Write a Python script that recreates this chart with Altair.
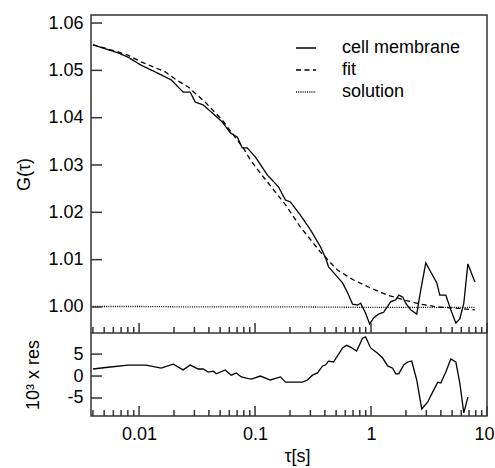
import altair as alt
import pandas as pd

# ---- data ----
membrane_tau = [0.0040, 0.00658, 0.00803, 0.0104, 0.0137, 0.0189, 0.0217, 0.0240, 0.0276, 0.0305,
                0.0357, 0.0419, 0.0521, 0.0612, 0.0703, 0.0776, 0.0857, 0.1006, 0.1276, 0.159,
                0.183, 0.2018, 0.246, 0.3006, 0.3667, 0.405, 0.430, 0.494, 0.568, 0.628,
                0.693, 0.766, 0.813, 0.898, 0.973, 1.053, 1.163, 1.285, 1.477, 1.632,
                1.733, 1.876, 1.991, 2.198, 2.477, 2.684, 2.965, 3.273, 3.69, 3.917,
                4.414, 4.873, 5.385, 5.83, 6.31, 6.84, 7.86]
membrane_g = [1.0554, 1.0537, 1.0528, 1.0511, 1.0497, 1.0480, 1.0465, 1.0454, 1.0454, 1.0433,
              1.0427, 1.0412, 1.0391, 1.0368, 1.0359, 1.0336, 1.0336, 1.0317, 1.0279, 1.0254,
              1.0226, 1.0222, 1.0194, 1.0163, 1.0127, 1.0104, 1.0085, 1.0068, 1.0051, 1.0030,
              1.0006, 1.0004, 1.0008, 0.9987, 0.9964, 0.9977, 0.9985, 0.9989, 1.0011, 1.0015,
              1.0025, 1.0021, 1.0008, 0.9994, 0.9985, 1.0036, 1.0093, 1.0074, 1.0051, 1.0025,
              1.0025, 0.9994, 0.9966, 0.9975, 1.0008, 1.0091, 1.0053]

fit_tau = [0.0040, 0.00658, 0.00803, 0.0104, 0.0168, 0.0209, 0.0265, 0.0371, 0.0521, 0.0792,
           0.0910, 0.111, 0.141, 0.183, 0.246, 0.3667, 0.514, 0.707, 0.992, 1.392,
           1.913, 2.684, 3.763, 5.176, 7.86]
fit_g = [1.0554, 1.0539, 1.0532, 1.0518, 1.0497, 1.0480, 1.0465, 1.0433, 1.0395, 1.0336,
         1.0311, 1.0283, 1.0251, 1.0216, 1.0169, 1.0116, 1.0078, 1.0057, 1.0040, 1.0025,
         1.0015, 1.0006, 1.0000, 0.9998, 0.9994]

solution_tau = [0.0040, 0.0104, 0.0305, 0.1006, 0.3006, 0.992, 2.965, 7.86]
solution_g = [1.0001, 1.0001, 1.0000, 1.0000, 1.0000, 0.9999, 0.9999, 0.9999]

res_tau = [0.0040, 0.0054, 0.00803, 0.0115, 0.0155, 0.0197, 0.0240, 0.0276, 0.0324, 0.0357,
           0.0394, 0.0437, 0.0463, 0.0553, 0.0624, 0.0689, 0.0762, 0.0841, 0.0929, 0.111,
           0.1355, 0.1655, 0.183, 0.2566, 0.283, 0.3126, 0.3455, 0.382, 0.405, 0.430,
           0.475, 0.568, 0.615, 0.666, 0.751, 0.846, 0.898, 0.992, 1.14, 1.26,
           1.392, 1.537, 1.632, 1.733, 1.913, 2.07, 2.243, 2.477, 2.737, 3.085,
           3.405, 3.763, 3.996, 4.414, 4.873, 5.385, 5.83, 6.31, 6.84]
res_val = [1.6, 2.0, 2.5, 2.5, 1.8, 2.7, 1.4, 2.5, 1.6, 1.6,
           0.9, 1.1, 0.5, 1.4, 0.2, 0.7, -0.2, -0.5, -0.7, 0.0,
           -0.9, -0.2, -1.4, -1.4, -0.9, 0.2, 0.7, 2.3, 2.5, 3.4,
           3.2, 6.4, 7.0, 6.6, 5.7, 8.6, 8.9, 6.4, 5.2, 4.1,
           2.3, 1.8, 0.5, 0.5, 2.5, 3.2, 3.4, -0.9, -7.5, -5.9,
           -3.6, -1.4, -1.6, 0.9, 3.9, 3.2, -1.6, -8.4, -4.8]

series_names = ["cell membrane", "fit", "solution"]
g_ticks = [1.00, 1.01, 1.02, 1.03, 1.04, 1.05, 1.06]
res_ticks = [-5, 0, 5]
x_major = [0.01, 0.1, 1, 10]
x_minor = [0.004, 0.005, 0.006, 0.007, 0.008, 0.009,
           0.02, 0.03, 0.04, 0.05, 0.06, 0.07, 0.08, 0.09,
           0.2, 0.3, 0.4, 0.5, 0.6, 0.7, 0.8, 0.9,
           2, 3, 4, 5, 6, 7, 8, 9]

# ---- layout / style ----
FONT = "Liberation Sans"
FS = 18
W, H = 396, 401
TOP_H = 318
FRAME = "#333333"

curves = pd.concat([
    pd.DataFrame({"tau": membrane_tau, "G": membrane_g, "series": series_names[0]}),
    pd.DataFrame({"tau": fit_tau, "G": fit_g, "series": series_names[1]}),
    pd.DataFrame({"tau": solution_tau, "G": solution_g, "series": series_names[2]}),
], ignore_index=True)
res_df = pd.DataFrame({"tau": res_tau, "res": res_val})

x_scale = alt.Scale(type="log", domain=[0.00385, 10], nice=False)
g_scale = alt.Scale(domain=[0.9945, 1.0617], range=[TOP_H, 0], nice=False, zero=False)
r_scale = alt.Scale(domain=[-9.1, 9.8], range=[H, TOP_H], nice=False, zero=False)

x_axis = alt.Axis(values=x_major, format="~g", title="τ[s]", labelFlush=True,
                  labelFlushOffset=7,
                  ticks=False, tickSize=0, domain=False, grid=False, labelPadding=9,
                  titleX=206, titleY=45, titleBaseline="alphabetic")
g_axis = alt.Axis(values=g_ticks, format=".2f", title="G(τ)", orient="left",
                  ticks=False, tickSize=0, domain=False, grid=False, labelPadding=8,
                  titleX=-62, titleY=159, titleBaseline="alphabetic")
r_axis = alt.Axis(values=res_ticks, title="10³ x res", orient="left",
                  labelExpr="datum.value < 0 ? '-' + abs(datum.value) : '' + datum.value",
                  ticks=False, tickSize=0, domain=False, grid=False, labelPadding=8,
                  titleX=-53, titleY=359.5, titleBaseline="alphabetic")

X = alt.X("tau:Q", scale=x_scale, axis=x_axis)

lines = alt.Chart(curves).mark_line(color="black", strokeWidth=1.3, clip=True).encode(
    x=X,
    y=alt.Y("G:Q", scale=g_scale, axis=g_axis),
    strokeDash=alt.StrokeDash(
        "series:N",
        scale=alt.Scale(domain=series_names, range=[[1, 0], [5, 3.5], [1, 1.2]]),
        legend=alt.Legend(orient="none", legendX=204, legendY=22, title=None,
                          symbolType="stroke", symbolStrokeColor="black",
                          symbolStrokeWidth=1.3, symbolSize=400, labelFont=FONT,
                          labelFontSize=FS, labelColor="black", labelOffset=25,
                          rowPadding=2, padding=0),
    ),
)

g_tick_rules = alt.Chart(pd.DataFrame({"G": g_ticks})).mark_rule(
    color=FRAME, strokeWidth=1.5).encode(
    y=alt.Y("G:Q", scale=g_scale, axis=g_axis),
    x=alt.value(0), x2=alt.value(11),
)

top = alt.layer(lines, g_tick_rules)

res_line = alt.Chart(res_df).mark_line(color="black", strokeWidth=1.3, clip=True).encode(
    x=X,
    y=alt.Y("res:Q", scale=r_scale, axis=r_axis),
)
r_tick_rules = alt.Chart(pd.DataFrame({"res": res_ticks})).mark_rule(
    color=FRAME, strokeWidth=1.5).encode(
    y=alt.Y("res:Q", scale=r_scale, axis=r_axis),
    x=alt.value(0), x2=alt.value(11),
)
bottom = alt.layer(res_line, r_tick_rules)

separator = alt.Chart(pd.DataFrame({"a": [0]})).mark_rule(
    color=FRAME, strokeWidth=1.5).encode(
    x=alt.value(0), x2=alt.value(W), y=alt.value(TOP_H))

major_df = pd.DataFrame({"tau": x_major})
minor_df = pd.DataFrame({"tau": x_minor})


def xticks(df, base, length):
    return alt.Chart(df).mark_rule(color=FRAME, strokeWidth=1.5).encode(
        x=X, y=alt.value(base), y2=alt.value(base - length))


chart = alt.layer(
    top, bottom, separator,
    xticks(major_df, TOP_H, 10), xticks(minor_df, TOP_H, 6),
    xticks(major_df, H, 10), xticks(minor_df, H, 6),
).resolve_scale(y="independent").properties(
    width=W, height=H,
    autosize=alt.AutoSizeParams(type="none"),
    padding={"left": 91, "top": 15, "right": 8, "bottom": 52},
).configure_view(
    stroke=FRAME, strokeWidth=1.5
).configure_axis(
    labelFont=FONT, titleFont=FONT, labelFontSize=FS, titleFontSize=FS,
    labelColor="black", titleColor="black", titleFontWeight="normal",
)

chart.save("out.html", embed_options={"renderer": "svg", "actions": False})
